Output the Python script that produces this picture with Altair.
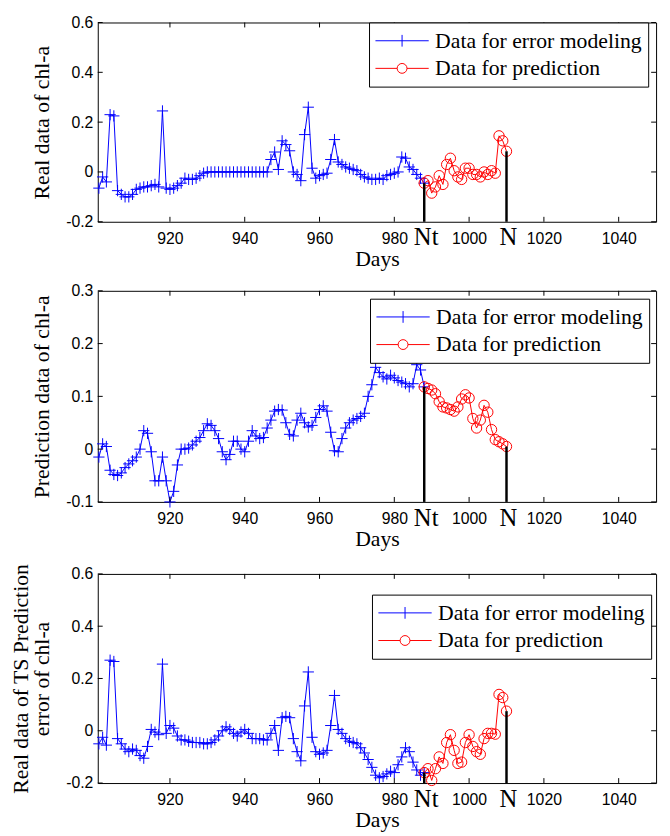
import altair as alt
import pandas as pd

SERIF = "Liberation Serif"
SANS = "Liberation Sans"

series_names = ["Data for error modeling", "Data for prediction"]
series_colors = ["#0000ff", "#ff0000"]
model_days = list(range(901, 989))
pred_days = list(range(988, 1011))
event_days = [988, 1010]
event_labels = ["Nt", "N"]
x_ticks = [920, 940, 960, 980, 1000, 1020, 1040]
y_ticks_a = [-0.2, 0, 0.2, 0.4, 0.6]
y_ticks_b = [-0.1, 0, 0.1, 0.2, 0.3]

real_model = [
    -0.065, -0.02, -0.04, 0.23, 0.225, -0.075, -0.09, -0.1, -0.1, -0.09,
    -0.07, -0.065, -0.06, -0.06, -0.055, -0.05, -0.06, 0.245, -0.065, -0.07,
    -0.065, -0.055, -0.045, -0.025, -0.03, -0.03, -0.025, -0.015, -0.005,
    0.0, 0.0, 0.0, 0.0, 0.0, 0.0, 0.0, 0.0, 0.0, 0.0, 0.0, 0.0, 0.0, 0.0, 0.0, 0.0, 0.0,
    0.05, 0.08, 0.01, 0.125, 0.11, 0.085, 0.0, -0.01, -0.035, 0.15,
    0.26, 0.015, -0.025, -0.015, -0.01, -0.005, 0.05, 0.13, 0.04, 0.03,
    0.02, 0.015, 0.01, 0.005, -0.01, -0.02, -0.025, -0.03, -0.03, -0.025,
    -0.03, -0.015, -0.01, -0.005, 0.0, 0.06, 0.055, 0.02, 0.01, -0.01,
    -0.025, -0.045,
]
real_pred = [
    -0.045, -0.035, -0.085, -0.06, -0.015, -0.05, 0.03, 0.055, 0.005, -0.02,
    -0.03, 0.015, 0.015, -0.01, -0.01, -0.02, 0.0, -0.01, 0.005, -0.005,
    0.145, 0.125, 0.083,
]
fore_model = [
    -0.015, 0.01, 0.005, -0.04, -0.048, -0.05, -0.045, -0.035, -0.028, -0.022,
    -0.015, 0.0, 0.035, 0.03, -0.005, -0.06, -0.06, -0.015, -0.06, -0.1,
    -0.08, -0.03, 0.0, 0.0, 0.002, 0.008, 0.015, 0.022, 0.035, 0.048,
    0.045, 0.035, 0.02, -0.005, -0.02, -0.01, 0.015, 0.015, 0.0, -0.005,
    0.015, 0.035, 0.025, 0.02, 0.022, 0.04, 0.055, 0.072, 0.075, 0.074,
    0.05, 0.028, 0.025, 0.055, 0.068, 0.05, 0.042, 0.045, 0.06, 0.075,
    0.082, 0.072, 0.032, -0.003, -0.005, 0.02, 0.04, 0.05, 0.055, 0.058,
    0.062, 0.068, 0.1, 0.122, 0.155, 0.145, 0.137, 0.133, 0.14, 0.135,
    0.13, 0.127, 0.124, 0.118, 0.124, 0.16, 0.15, 0.118,
]
fore_pred = [
    0.118, 0.115, 0.112, 0.105, 0.09, 0.08, 0.078, 0.075, 0.072, 0.08,
    0.095, 0.103, 0.097, 0.058, 0.04, 0.055, 0.083, 0.07, 0.037, 0.018,
    0.014, 0.01, 0.005,
]
err_model = [
    -0.05, -0.025, -0.055, 0.27, 0.265, -0.03, -0.05, -0.07, -0.08, -0.07,
    -0.075, -0.095, -0.105, -0.06, 0.005, -0.005, -0.015, 0.255, -0.01, 0.02,
    0.01, -0.02, -0.035, -0.035, -0.04, -0.045, -0.045, -0.045, -0.05, -0.05,
    -0.045, -0.035, -0.02, 0.0, 0.015, 0.005, -0.01, -0.02, -0.005, 0.005,
    -0.01, -0.03, -0.03, -0.03, -0.035, -0.035, -0.01, 0.02, -0.075, 0.05,
    0.055, 0.05, -0.03, -0.08, -0.115, 0.095, 0.225, -0.025, -0.08, -0.09,
    -0.085, -0.075, 0.02, 0.135, 0.005, -0.01, -0.03, -0.04, -0.045, -0.05,
    -0.065, -0.085, -0.11, -0.14, -0.17, -0.18, -0.175, -0.165, -0.155, -0.16,
    -0.13, -0.1, -0.065, -0.08, -0.12, -0.15, -0.17, -0.16,
]
err_pred = [
    -0.16, -0.145, -0.19, -0.145, -0.1, -0.125, -0.045, -0.015, -0.075, -0.125,
    -0.12, -0.045, -0.015, -0.06, -0.08, -0.09, -0.03, -0.01, -0.01, -0.013,
    0.139, 0.127, 0.075,
]

PLUS = "M-1,0L1,0M0,-1L0,1"
LEG_PLUS = "M-1,0L1,0M0,-0.22L0,0.22"
r = 0.185
LEG_CIRCLE = (f"M-1,0L-{r},0M{r},0L1,0M-{r},0"
              f"A{r},{r} 0 1,0 {r},0A{r},{r} 0 1,0 -{r},0")

W = 566


def panel(model_vals, pred_vals, ydom, yticks, ytitle, H, lx, ly):
    base = ydom[0]
    df_m = pd.DataFrame({"day": model_days, "v": model_vals})
    df_p = pd.DataFrame({"day": pred_days, "v": pred_vals})
    df_e = pd.DataFrame({"day": event_days,
                         "v": [model_vals[-1], pred_vals[-1]],
                         "base": [base, base],
                         "label": event_labels})
    xs = alt.Scale(domain=[900.7, 1050], nice=False, zero=False)
    ys = alt.Scale(domain=ydom, nice=False, zero=False)
    xax = alt.Axis(values=x_ticks, title="Days", ticks=False, domain=False, grid=False,
                   format="d", labelFont=SANS, labelFontSize=16, labelColor="black",
                   labelPadding=9, titleFont=SERIF, titleFontSize=22,
                   titleFontWeight="normal", titleColor="black", titlePadding=2)
    yax = alt.Axis(values=yticks, title=ytitle, ticks=False, domain=False, grid=False,
                   labelExpr="'' + datum.value", labelFont=SANS, labelFontSize=16,
                   labelColor="black", labelPadding=5, titleFont=SERIF,
                   titleFontSize=22, titleFontWeight="normal", titleColor="black",
                   titlePadding=12, titleLineHeight=22)
    X = alt.X("day:Q", scale=xs, axis=xax)
    Y = alt.Y("v:Q", scale=ys, axis=yax)

    line_m = alt.Chart(df_m).mark_line(color=series_colors[0], strokeWidth=1).encode(x=X, y=Y)
    line_p = alt.Chart(df_p).mark_line(color=series_colors[1], strokeWidth=1).encode(x="day:Q", y="v:Q")
    pt_m = alt.Chart(df_m).mark_point(shape=PLUS, size=130, color=series_colors[0], filled=False,
                                       strokeWidth=1, opacity=1).encode(x="day:Q", y="v:Q")
    pt_p = alt.Chart(df_p).mark_point(shape="circle", size=110, color=series_colors[1], filled=False,
                                       strokeWidth=1, opacity=1).encode(x="day:Q", y="v:Q")
    rules = alt.Chart(df_e).mark_rule(color="black", strokeWidth=2.5).encode(
        x="day:Q", y="v:Q", y2="base:Q")
    labels = alt.Chart(df_e).mark_text(font=SERIF, fontSize=25, color="black",
                                        baseline="middle", dx=2).encode(
        x="day:Q", y=alt.value(H + 16), text="label:N")
    xt = pd.DataFrame({"day": x_ticks})
    yt = pd.DataFrame({"v": yticks})
    tick_b = alt.Chart(xt).mark_rule(color="black", strokeWidth=1).encode(
        x="day:Q", y=alt.value(H), y2=alt.value(H - 5))
    tick_t = alt.Chart(xt).mark_rule(color="black", strokeWidth=1).encode(
        x="day:Q", y=alt.value(0), y2=alt.value(5))
    tick_l = alt.Chart(yt).mark_rule(color="black", strokeWidth=1).encode(
        y="v:Q", x=alt.value(0), x2=alt.value(5))
    tick_r = alt.Chart(yt).mark_rule(color="black", strokeWidth=1).encode(
        y="v:Q", x=alt.value(W - 5), x2=alt.value(W))

    leg_df = pd.DataFrame({"day": [model_days[0], pred_days[0]],
                           "v": [model_vals[0], pred_vals[0]],
                           "series": series_names})
    legend = alt.Legend(title=None, orient="none", legendX=lx, legendY=ly,
                        direction="vertical", strokeColor="black", fillColor="white",
                        padding=6, cornerRadius=0, labelFont=SERIF, labelFontSize=22,
                        labelColor="black", labelLimit=400, labelOffset=6,
                        symbolSize=2916, symbolStrokeWidth=1, symbolOpacity=1,
                        clipHeight=25, rowPadding=3)
    leg = alt.Chart(leg_df).transform_filter("false").mark_point(
        filled=False, strokeWidth=1).encode(
        x="day:Q", y="v:Q",
        color=alt.Color("series:N", scale=alt.Scale(domain=series_names, range=series_colors),
                        legend=legend),
        shape=alt.Shape("series:N", scale=alt.Scale(domain=series_names,
                                                    range=[LEG_PLUS, LEG_CIRCLE]),
                        legend=legend))
    return alt.layer(line_m, line_p, pt_m, pt_p, rules, labels,
                     tick_b, tick_t, tick_l, tick_r, leg).properties(width=W, height=H)


p1 = panel(real_model, real_pred, [-0.2, 0.6], y_ticks_a, "Real data of chl-a", 202, 275, 0)
p2 = panel(fore_model, fore_pred, [-0.1, 0.3], y_ticks_b, "Prediction data of chl-a", 214, 276, 8)
p3 = panel(err_model, err_pred, [-0.2, 0.6], y_ticks_a,
           ["Real data of TS Prediction", "error of chl-a"], 212, 278, 21)

chart = alt.vconcat(p1, p2, p3, spacing=12).resolve_scale(
    x="independent", y="independent", color="independent", shape="independent"
).resolve_legend(color="independent", shape="independent").properties(
    padding={"left": 0, "top": 0, "right": 5, "bottom": 0},
    background="white",
).configure_view(stroke="black", strokeWidth=1)

chart.save("out.html", embed_options={"renderer": "svg", "actions": False})
